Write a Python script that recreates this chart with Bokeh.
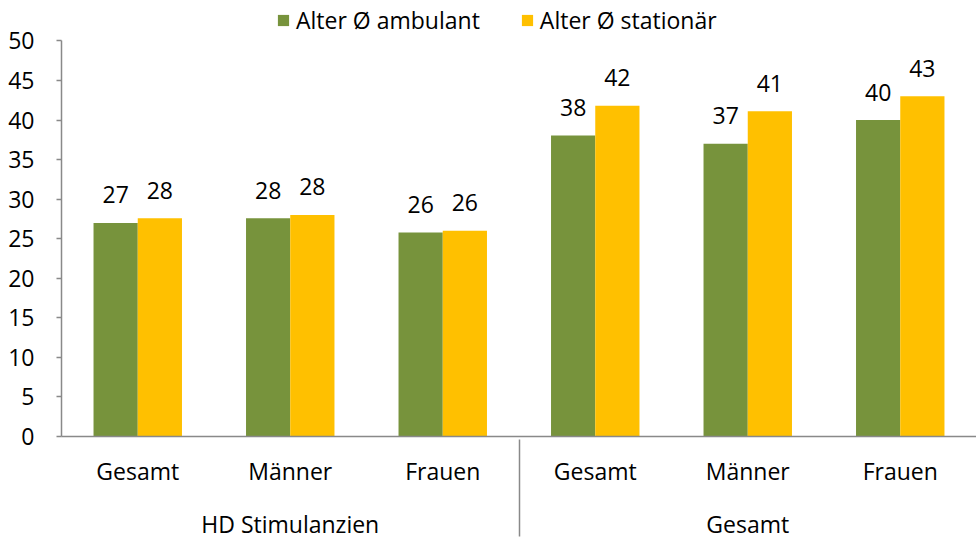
from bokeh.plotting import figure
from bokeh.models import (FactorRange, Range1d, ColumnDataSource, LabelSet, Legend,
                          LegendItem, FixedTicker)
from bokeh.core.properties import value
from bokeh.transform import dodge
from bokeh.embed import file_html
from bokeh.resources import INLINE

groups = ["HD Stimulanzien"] * 3 + ["Gesamt"] * 3
subs = ["Gesamt", "Männer", "Frauen"] * 2
ambulant = [27.0, 27.6, 25.8, 38.05, 37.0, 40.0]
stationaer = [27.6, 28.0, 26.0, 41.8, 41.1, 43.0]
series = ["Alter Ø ambulant", "Alter Ø stationär"]
colors = ["#77933C", "#FFC000"]
y_ticks = list(range(0, 51, 5))

FONT = "Open Sans"
FS = "23px"
GREY = "#898989"
factors = list(zip(groups, subs))

src = ColumnDataSource(dict(
    x=factors,
    amb=ambulant,
    sta=stationaer,
    amb_lbl=[str(round(v)) for v in ambulant],
    sta_lbl=[str(round(v)) for v in stationaer],
))

FRAME_H = 442
y_end = 50 * FRAME_H / (FRAME_H - 41)   # leaves room above 50 for the legend

p = figure(width=976, height=542, output_backend="svg", toolbar_location=None,
           title=None,
           x_range=FactorRange(*factors, range_padding=0, group_padding=0,
                               factor_padding=0),
           y_range=Range1d(0, y_end),
           min_border_left=61, min_border_right=0, min_border_top=0,
           min_border_bottom=100)

bw = 0.29
r1 = p.vbar(x=dodge("x", -bw / 2, range=p.x_range), top="amb", width=bw,
            source=src, fill_color=colors[0], line_color=None)
r2 = p.vbar(x=dodge("x", bw / 2, range=p.x_range), top="sta", width=bw,
            source=src, fill_color=colors[1], line_color=None)

for col, lbl, off in [("amb", "amb_lbl", -bw / 2), ("sta", "sta_lbl", bw / 2)]:
    ls = LabelSet(x=dodge("x", off, range=p.x_range), y=col, text=lbl, source=src,
                  text_align="center", text_baseline="middle", y_offset=28,
                  text_font=value(FONT), text_font_size=value(FS),
                  text_color="black")
    p.add_layout(ls)

legend = Legend(items=[LegendItem(label=series[0], renderers=[r1]),
                       LegendItem(label=series[1], renderers=[r2])],
                orientation="horizontal", location=(215, 400),
                label_text_font=FONT, label_text_font_size=FS,
                label_text_color="black",
                glyph_width=14, glyph_height=14, spacing=40, padding=0,
                margin=0, border_line_color=None, background_fill_alpha=0,
                label_standoff=6)
p.add_layout(legend)

p.xgrid.grid_line_color = None
p.ygrid.grid_line_color = None
p.outline_line_color = None

ya = p.yaxis[0]
ya.ticker = FixedTicker(ticks=y_ticks)
ya.bounds = (0, 50)
ya.minor_tick_line_color = None
ya.major_tick_in = 0
ya.major_tick_out = 5
ya.major_label_standoff = 22
ya.axis_line_color = GREY
ya.axis_line_width = 1.5
ya.major_tick_line_color = GREY
ya.major_tick_line_width = 1.5
ya.major_label_text_font = FONT
ya.major_label_text_font_size = FS
ya.major_label_text_color = "black"

xa = p.xaxis[0]
xa.axis_line_color = GREY
xa.axis_line_width = 1.5
xa.major_tick_line_color = None
xa.major_tick_in = 0
xa.major_tick_out = 0
xa.major_label_text_font = FONT
xa.major_label_text_font_size = FS
xa.major_label_text_color = "black"
xa.group_text_font = FONT
xa.group_text_font_size = FS
xa.group_text_color = "black"
xa.group_text_font_style = "normal"
xa.major_label_standoff = 18
xa.separator_line_color = GREY
xa.separator_line_width = 1.5

open("out.html", "w").write(file_html(p, INLINE))
